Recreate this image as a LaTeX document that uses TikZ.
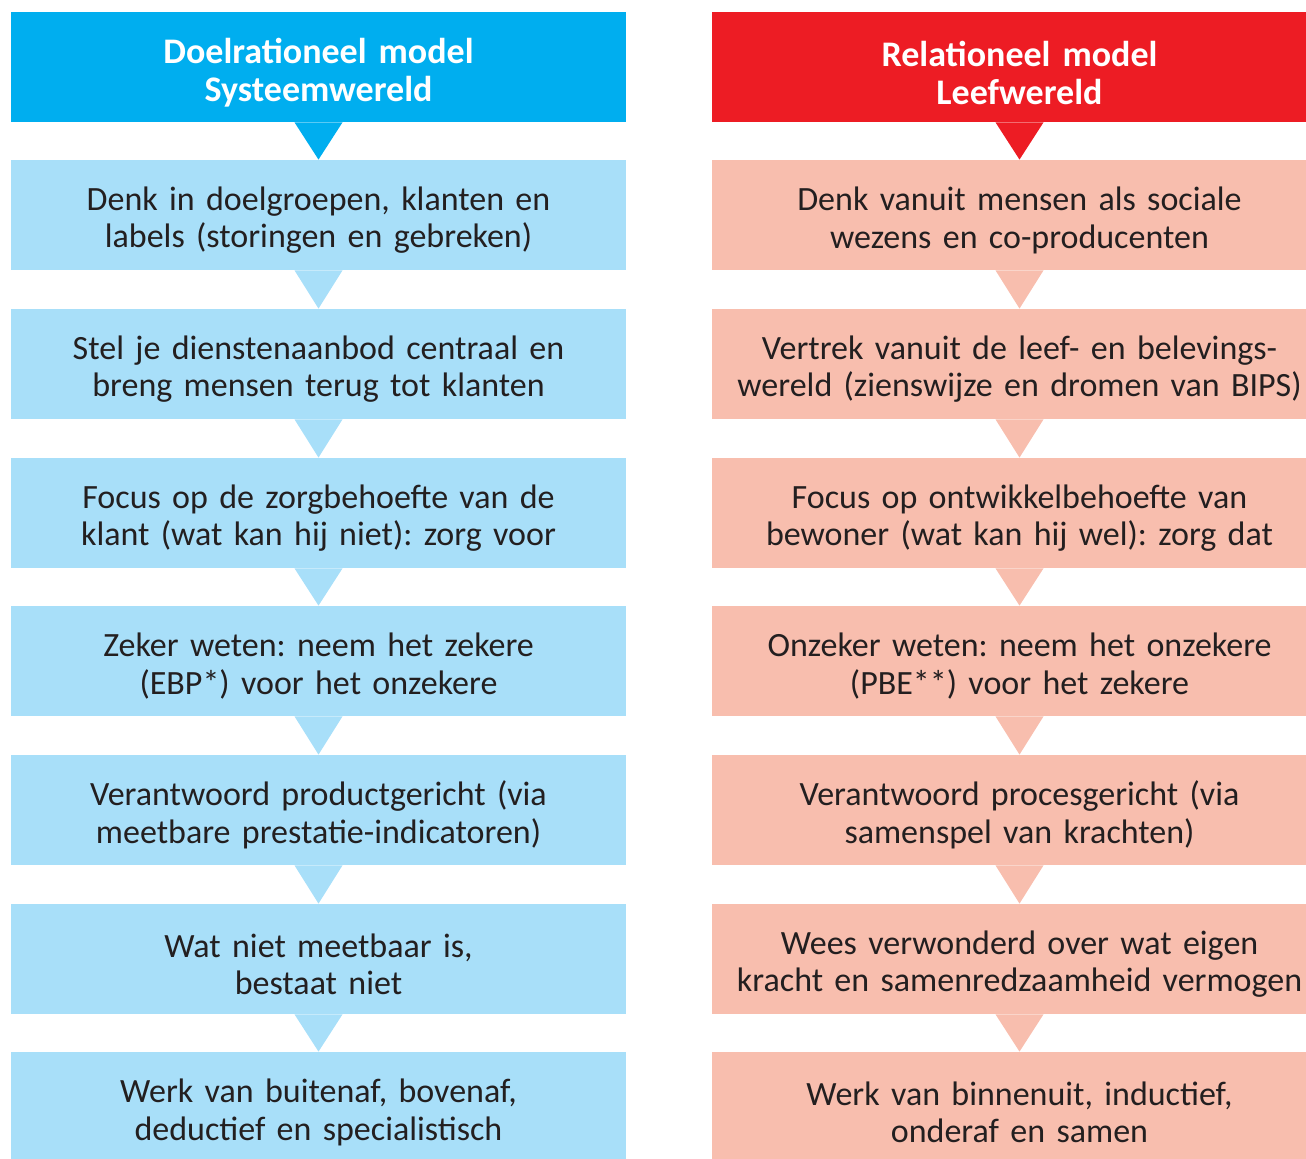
\documentclass[tikz,border=0pt]{standalone}
\usepackage{fontspec}
\setmainfont{Carlito}
\usetikzlibrary{calc}
\definecolor{kopblauw}{RGB}{0,174,239}
\definecolor{lichtblauw}{RGB}{168,223,249}
\definecolor{koprood}{RGB}{237,28,36}
\definecolor{lichtrood}{RGB}{248,190,174}
\definecolor{tekstkleur}{RGB}{35,31,32}
\frenchspacing

\begin{document}
\begin{tikzpicture}[x=0.5pt,y=-0.5pt,
    blok/.style={minimum width=307.5pt,minimum height=55pt,inner sep=0pt,text width=304pt,align=center},
    vak/.style={blok,font=\fontsize{17}{18.8}\selectfont,text=tekstkleur,
        execute at begin node={\rule{0pt}{17pt}}},
    kop/.style={blok,text=white,font=\fontsize{18}{19}\selectfont\bfseries,
        execute at begin node={\rule{0pt}{18.5pt}}}]

    \useasboundingbox (0,0) rectangle (1306,1159); % 画布大小

    % 左列: systeemwereld
    \node[kop,fill=kopblauw]   (L0) at (318.5,67)   {Doelrationeel model\\Systeemwereld};
    \node[vak,fill=lichtblauw] (L1) at (318.5,215)  {Denk in doelgroepen, klanten en\\labels (storingen en gebreken)};
    \node[vak,fill=lichtblauw] (L2) at (318.5,364)  {Stel je dienstenaanbod centraal en\\breng mensen terug tot klanten};
    \node[vak,fill=lichtblauw] (L3) at (318.5,513)  {Focus op de zorgbehoefte van de\\klant (wat kan hij niet): zorg voor};
    \node[vak,fill=lichtblauw] (L4) at (318.5,661)  {Zeker weten: neem het zekere\\(EBP*) voor het onzekere};
    \node[vak,fill=lichtblauw] (L5) at (318.5,810)  {Verantwoord productgericht (via\\meetbare prestatie-indicatoren)};
    \node[vak,fill=lichtblauw] (L6) at (318.5,959)  {Wat niet meetbaar is,\\bestaat niet};
    \node[vak,fill=lichtblauw] (L7) at (318.5,1107) {Werk van buitenaf, bovenaf,\\deductief en specialistisch};

    % 右列: leefwereld
    \node[kop,fill=koprood]   (R0) at (1019.5,67)   {Relationeel model\\Leefwereld};
    \node[vak,fill=lichtrood] (R1) at (1019.5,215)  {Denk vanuit mensen als sociale\\wezens en co-producenten};
    \node[vak,fill=lichtrood] (R2) at (1019.5,364)  {Vertrek vanuit de leef- en belevings-\\wereld (zienswijze en dromen van BIPS)};
    \node[vak,fill=lichtrood] (R3) at (1019.5,513)  {Focus op ontwikkelbehoefte van\\bewoner (wat kan hij wel): zorg dat};
    \node[vak,fill=lichtrood] (R4) at (1019.5,661)  {Onzeker weten: neem het onzekere\\(PBE**) voor het zekere};
    \node[vak,fill=lichtrood] (R5) at (1019.5,810)  {Verantwoord procesgericht (via\\samenspel van krachten)};
    \node[vak,fill=lichtrood] (R6) at (1019.5,959)  {Wees verwonderd over wat eigen\\kracht en samenredzaamheid vermogen};
    \node[vak,fill=lichtrood] (R7) at (1019.5,1107) {Werk van binnenuit, inductief,\\onderaf en samen};

    % 三角形箭头
    \foreach \a/\b/\c in {L0/L1/kopblauw,L1/L2/lichtblauw,L2/L3/lichtblauw,L3/L4/lichtblauw,
        L4/L5/lichtblauw,L5/L6/lichtblauw,L6/L7/lichtblauw,
        R0/R1/koprood,R1/R2/lichtrood,R2/R3/lichtrood,R3/R4/lichtrood,
        R4/R5/lichtrood,R5/R6/lichtrood,R6/R7/lichtrood}
        \fill[\c] ($(\a.south)+(-24,0)$) -- ($(\a.south)+(24,0)$) -- (\b.north) -- cycle;

\end{tikzpicture}
\end{document}
